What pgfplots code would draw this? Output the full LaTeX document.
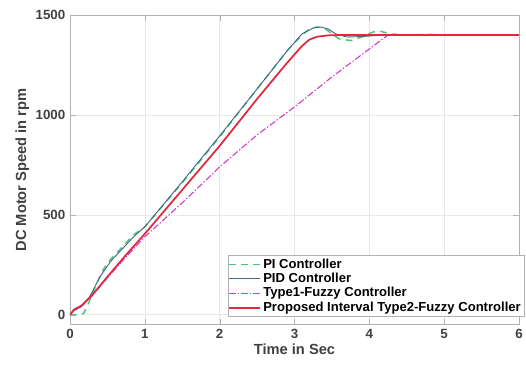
\documentclass[border=0pt]{standalone}
\usepackage{pgfplots}
\pgfplotsset{compat=1.18}
\usepackage{fontspec}
\setmainfont{Liberation Sans}
\definecolor{pigreen}{RGB}{70,200,120}
\definecolor{pidblue}{RGB}{70,105,135}
\definecolor{tmag}{RGB}{205,60,205}
\definecolor{pred}{RGB}{225,40,60}
\begin{document}
\begin{tikzpicture}
\begin{axis}[name=ax,
  scale only axis,
  width=336.75pt, height=232.3pt,
  xmin=0, xmax=6, ymin=-50, ymax=1500,
  xtick={0,1,2,3,4,5,6}, ytick={0,500,1000,1500},
  grid=major, major grid style={gray!18},
  axis line style={gray!60},
  tick style={gray!60},
  tick align=inside,
  /pgf/number format/assume math mode=true,
  /pgf/number format/set thousands separator={},
  ticklabel style={font=\fontsize{10}{12}\selectfont\bfseries, text=black!75},
  xlabel={Time in Sec}, ylabel={DC Motor Speed in rpm},
  label style={font=\fontsize{11}{13}\selectfont\bfseries, text=black!75},
  xlabel style={yshift=3pt},
  ylabel style={yshift=-2pt},
  legend style={font=\fontsize{9.8}{11}\selectfont\bfseries, at={(rel axis cs:1.012,0.025)}, anchor=south east, draw=gray!60, inner sep=0.5pt, row sep=-1.8pt},
  legend cell align=left,
  legend image code/.code={\draw[mark repeat=2,mark phase=2,#1] plot coordinates {(0cm,0cm) (0.4cm,0cm) (0.8cm,0cm)};},
]
\addplot[color=pigreen, dash pattern=on 5pt off 4pt, line width=1.1pt] coordinates {
(0,0) (0.1,0) (0.18,5) (0.25,60) (0.35,150) (0.45,230) (0.55,280) (0.7,340) (0.85,400) (1,440) (1.5,660) (2,890) (2.5,1130) (2.9,1320) (3.1,1400) (3.2,1430) (3.3,1440) (3.4,1435) (3.5,1405) (3.6,1380) (3.75,1372) (3.9,1390) (4.05,1415) (4.15,1418) (4.3,1405) (4.5,1400) (4.8,1403) (5,1400) (6,1400)};
\addlegendentry{PI Controller}
\addplot[color=pidblue, line width=0.7pt] coordinates {
(0,0) (0.05,20) (0.15,40) (0.25,80) (0.4,190) (0.55,270) (0.7,330) (0.85,390) (1,440) (1.5,665) (2,895) (2.5,1130) (2.9,1320) (3.1,1405) (3.25,1435) (3.35,1440) (3.45,1430) (3.55,1405) (3.7,1390) (3.9,1392) (4.2,1400) (6,1400)};
\addlegendentry{PID Controller}
\addplot[color=tmag, line width=0.8pt, dash pattern=on 5pt off 1.5pt on 1pt off 1.5pt] coordinates {
(0,0) (0.05,20) (0.15,40) (0.3,95) (0.5,185) (0.75,290) (1,390) (1.5,560) (2,740) (2.5,900) (3,1040) (3.5,1190) (4,1330) (4.25,1400) (4.4,1400) (6,1400)};
\addlegendentry{Type1-Fuzzy Controller}
\addplot[color=pred, line width=1.3pt] coordinates {
(0,0) (0.05,25) (0.15,45) (0.3,100) (0.5,190) (0.75,300) (1,405) (1.5,625) (2,845) (2.5,1080) (2.9,1260) (3.1,1345) (3.2,1377) (3.3,1391) (3.45,1398) (3.6,1400) (6,1400)};
\addlegendentry{Proposed Interval Type2-Fuzzy Controller}
\end{axis}
\pgfresetboundingbox
\useasboundingbox ([xshift=-52.5pt,yshift=-29.5pt]ax.south west) rectangle ([xshift=5.25pt,yshift=11.25pt]ax.north east);
\end{tikzpicture}
\end{document}
